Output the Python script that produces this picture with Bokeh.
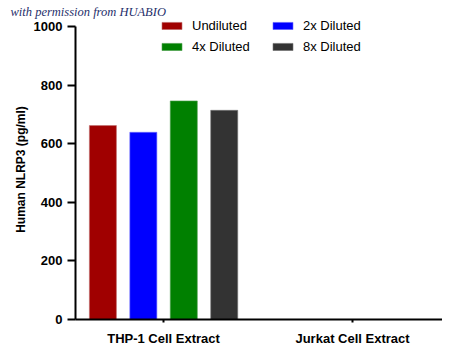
from bokeh.plotting import figure
from bokeh.models import Range1d, FixedTicker, Legend, LegendItem, ColumnDataSource
from bokeh.embed import file_html
from bokeh.resources import INLINE

categories = ["THP-1 Cell Extract", "Jurkat Cell Extract"]
series = ["Undiluted", "2x Diluted", "4x Diluted", "8x Diluted"]
thp1_values = [662, 639, 746, 714]
jurkat_values = [0, 0, 0, 0]
y_ticks = [0, 200, 400, 600, 800, 1000]

colors = ["#a00000", "#0000ff", "#008000", "#333333"]
edge = ["#c07070", "#6a6aff", "#50a050", "#777777"]

p = figure(width=442, height=348, output_backend="svg", toolbar_location=None,
           x_range=Range1d(-0.466, 1.476), y_range=Range1d(0, 1024),
           min_border_left=75, min_border_right=0, min_border_top=19, min_border_bottom=29)
p.outline_line_color = None
p.grid.visible = False
p.background_fill_color = "white"

step = 0.214
bw = 0.143
renderers = []
for j, name in enumerate(series):
    xs = [i + (j - 1.5) * step for i in range(len(categories))]
    tops = [thp1_values[j], jurkat_values[j]]
    src = ColumnDataSource(dict(x=xs, top=tops))
    r = p.vbar(x="x", top="top", bottom=0, width=bw, source=src,
               fill_color=colors[j], line_color=edge[j], line_width=1,
               line_alpha=0.6)
    renderers.append(r)

order = [0, 2, 1, 3]
items = [LegendItem(label=series[k], renderers=[renderers[k]]) for k in order]
legend = Legend(items=items, ncols=2, location=(84, 265), padding=0, margin=0,
                spacing=6, glyph_width=25, glyph_height=9, label_height=14,
                label_standoff=8, label_width=72, border_line_color=None,
                background_fill_alpha=0, label_text_font="Liberation Sans",
                label_text_font_size="13px", label_text_color="#000000")
p.add_layout(legend, "center")

for ax in (p.xaxis[0], p.yaxis[0]):
    ax.axis_line_width = 2
    ax.axis_line_color = "black"
    ax.major_tick_line_width = 2
    ax.major_tick_line_color = "black"
    ax.minor_tick_line_color = None
    ax.major_tick_in = 0
    ax.major_label_text_font = "Liberation Sans"
    ax.major_label_text_font_style = "bold"
    ax.major_label_text_font_size = "13px"
    ax.major_label_text_color = "black"

p.yaxis.ticker = FixedTicker(ticks=y_ticks)
p.yaxis.bounds = (0, 1000)
p.yaxis.major_tick_out = 8
p.yaxis.major_label_standoff = 5
p.yaxis.axis_label = "Human NLRP3 (pg/ml)"
p.yaxis.axis_label_text_font = "Liberation Sans"
p.yaxis.axis_label_text_font_style = "bold"
p.yaxis.axis_label_text_font_size = "12px"
p.yaxis.axis_label_text_color = "black"
p.yaxis.axis_label_standoff = 3

p.xaxis.ticker = FixedTicker(ticks=list(range(len(categories))))
p.xaxis.major_label_overrides = {i: c for i, c in enumerate(categories)}
p.xaxis.major_tick_out = 3
p.xaxis.major_label_standoff = 8

p.title.text = "with permission from HUABIO"
p.title.align = "left"
p.title.offset = -65
p.title.standoff = 1
p.title.text_font = "Liberation Serif"
p.title.text_font_style = "italic"
p.title.text_font_size = "12.5px"
p.title.text_color = "#1f2f6b"

open("out.html", "w").write(file_html(p, INLINE))
